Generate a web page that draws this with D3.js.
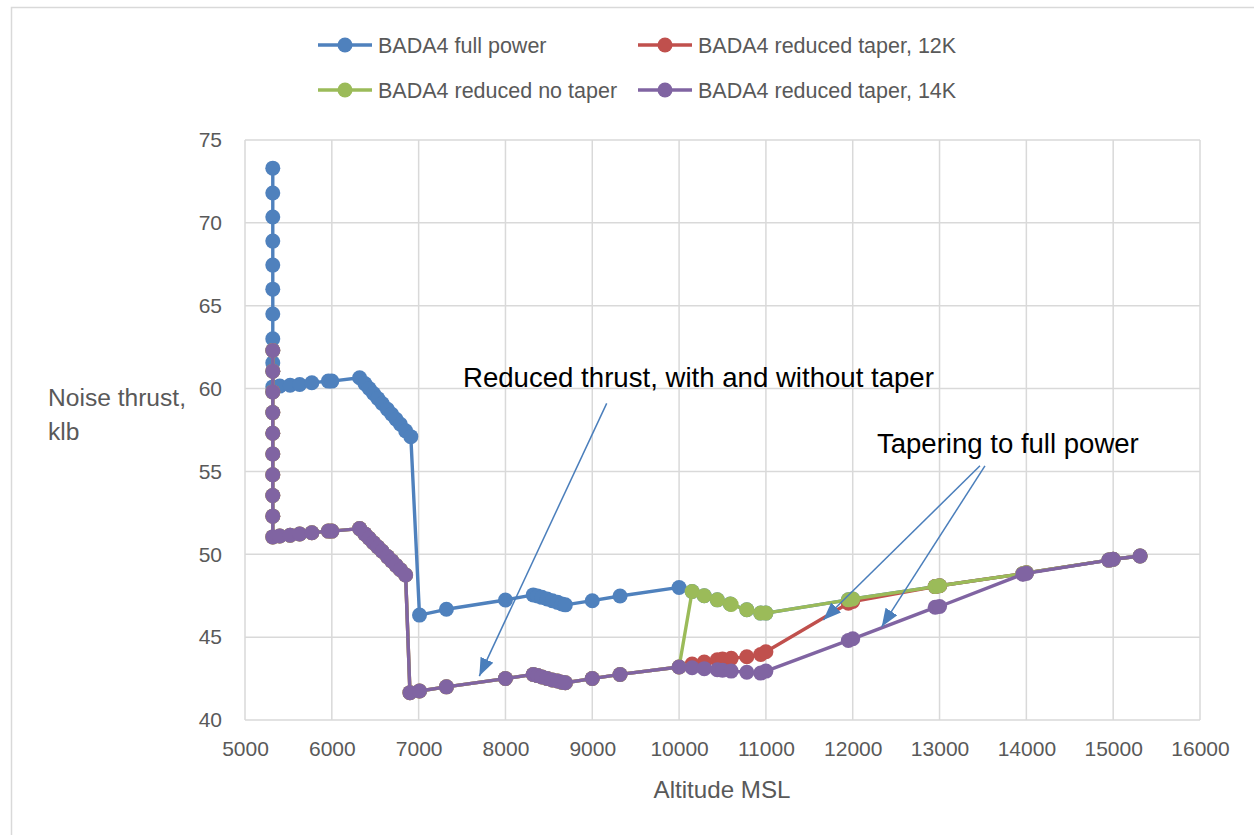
<!DOCTYPE html>
<html>
<head>
<meta charset="utf-8">
<script src="https://cdn.jsdelivr.net/npm/d3@7"></script>
<style>
  html, body { margin: 0; padding: 0; background: #fff; }
  svg { display: block; }
  text { font-family: "Liberation Sans", Arial, sans-serif; }
</style>
</head>
<body>
<svg id="chart" width="1254" height="835"></svg>
<script>
// ---------- DATA ----------
const xTicks = [5000, 6000, 7000, 8000, 9000, 10000, 11000, 12000, 13000, 14000, 15000, 16000];
const yTicks = [40, 45, 50, 55, 60, 65, 70, 75];

// Full power
const fullAlt = [5320, 5320, 5320, 5320, 5320, 5320, 5320, 5320, 5320, 5320,
  5400, 5520, 5630, 5770, 5960, 6000, 6320, 6380, 6430, 6480, 6530, 6580, 6640, 6690, 6740, 6790, 6850, 6910,
  7010, 7320, 8000, 8320, 8370, 8420, 8480, 8540, 8600, 8650, 8690, 9000, 9320, 10000,
  10150, 10290, 10440, 10590, 10780, 10940, 11000, 11950, 12000, 12950, 13000, 13960, 14000, 14950, 15000, 15310];
const fullThrust = [73.3, 71.8, 70.35, 68.9, 67.45, 66.0, 64.5, 63.0, 61.55, 60.1,
  60.15, 60.2, 60.25, 60.35, 60.45, 60.45, 60.65, 60.3, 60.0, 59.7, 59.4, 59.1, 58.75, 58.45, 58.15, 57.85, 57.45, 57.1,
  46.33, 46.68, 47.24, 47.55, 47.48, 47.4, 47.3, 47.2, 47.1, 47.0, 46.95, 47.2, 47.48, 48.0,
  47.75, 47.5, 47.25, 47.0, 46.65, 46.45, 46.45, 47.25, 47.3, 48.05, 48.1, 48.83, 48.88, 49.65, 49.7, 49.9];

// Reduced thrust, common part up to 10000 ft
const reducedAlt = [5320, 5320, 5320, 5320, 5320, 5320, 5320, 5320, 5320, 5320,
  5400, 5520, 5630, 5770, 5960, 6000, 6320, 6380, 6430, 6480, 6530, 6580, 6640, 6690, 6740, 6790, 6850,
  6900, 7010, 7320, 8000, 8320, 8370, 8420, 8480, 8540, 8600, 8650, 8690, 9000, 9320, 10000];
const reducedThrust = [62.3, 61.05, 59.8, 58.55, 57.3, 56.05, 54.8, 53.55, 52.3, 51.05,
  51.1, 51.15, 51.22, 51.3, 51.4, 51.4, 51.55, 51.23, 50.97, 50.7, 50.44, 50.18, 49.86, 49.6, 49.33, 49.07, 48.75,
  41.65, 41.75, 42.0, 42.5, 42.75, 42.68, 42.6, 42.5, 42.42, 42.35, 42.28, 42.25, 42.5, 42.75, 43.2];

// Tails above 10000 ft
const taper12Alt = [10150, 10290, 10440, 10500, 10600, 10780, 10940, 11000, 11950, 12000, 12950, 13000, 13960, 14000, 14950, 15000, 15310];
const taper12Thrust = [43.38, 43.5, 43.63, 43.68, 43.72, 43.82, 43.95, 44.12, 47.05, 47.15, 48.05, 48.1, 48.83, 48.88, 49.65, 49.7, 49.9];

const noTaperAlt = [10150, 10290, 10440, 10590, 10600, 10780, 10940, 11000, 11950, 12000, 12950, 13000, 13960, 14000, 14950, 15000, 15310];
const noTaperThrust = [47.75, 47.5, 47.25, 47.0, 46.97, 46.65, 46.45, 46.45, 47.25, 47.3, 48.05, 48.1, 48.83, 48.88, 49.65, 49.7, 49.9];

const taper14Alt = [10150, 10290, 10440, 10500, 10600, 10780, 10940, 11000, 11950, 12000, 12950, 13000, 13960, 14000, 14950, 15000, 15310];
const taper14Thrust = [43.15, 43.1, 43.03, 43.0, 42.95, 42.88, 42.83, 42.95, 44.8, 44.9, 46.8, 46.85, 48.8, 48.85, 49.65, 49.7, 49.9];

const seriesNames = ["BADA4 full power", "BADA4 reduced taper, 12K", "BADA4 reduced no taper", "BADA4 reduced taper, 14K"];
const seriesColors = ["#4F81BD", "#C0504D", "#9BBB59", "#8064A2"];

// Annotations (data coordinates)
const annotationTexts = ["Reduced thrust, with and without taper", "Tapering to full power"];
const annotationTextPos = [[7511, 60.09], [12279, 56.11]];
const arrowFrom = [[9166, 59.11], [13466, 55.34], [13523, 55.34]];
const arrowTo = [[7699, 42.65], [11661, 46.03], [12334, 45.63]];

// ---------- BUILD ----------
const zip = (a, b) => a.map((v, i) => ({x: v, y: b[i]}));
const series = [
  zip(fullAlt, fullThrust),
  zip(reducedAlt.concat(taper12Alt), reducedThrust.concat(taper12Thrust)),
  zip(reducedAlt.concat(noTaperAlt), reducedThrust.concat(noTaperThrust)),
  zip(reducedAlt.concat(taper14Alt), reducedThrust.concat(taper14Thrust))
];

const svg = d3.select("#chart");
const W = 1254, H = 835;
const plot = {left: 245, right: 1200, top: 140, bottom: 720};

// outer chart border
svg.append("rect").attr("x", 11.5).attr("y", 7.5).attr("width", W + 10).attr("height", H + 10)
  .attr("fill", "#fff").attr("stroke", "#d9d9d9").attr("stroke-width", 1.5);

const x = d3.scaleLinear().domain([5000, 16000]).range([plot.left, plot.right]);
const y = d3.scaleLinear().domain([40, 75]).range([plot.bottom, plot.top]);

function fit(sel, target) {
  sel.each(function() {
    const w = this.getComputedTextLength();
    const fs = parseFloat(d3.select(this).style("font-size"));
    if (w > 0) d3.select(this).style("font-size", (fs * target / w).toFixed(2) + "px");
  });
}

// gridlines
svg.append("g").selectAll("line.v").data(xTicks).join("line")
  .attr("x1", d => x(d)).attr("x2", d => x(d)).attr("y1", plot.top).attr("y2", plot.bottom)
  .attr("stroke", "#d9d9d9").attr("stroke-width", 1.5);
svg.append("g").selectAll("line.h").data(yTicks).join("line")
  .attr("x1", plot.left).attr("x2", plot.right).attr("y1", d => y(d)).attr("y2", d => y(d))
  .attr("stroke", "#d9d9d9").attr("stroke-width", 1.5);

// axes (labels only, Excel-like)
const xAxis = svg.append("g").attr("transform", `translate(0,${plot.bottom})`)
  .call(d3.axisBottom(x).tickValues(xTicks).tickFormat(d3.format("d")).tickSize(0).tickPadding(21));
xAxis.select(".domain").remove();
xAxis.selectAll("text").style("font-size", "21px").attr("fill", "#595959")
  .style("font-family", "Liberation Sans, Arial, sans-serif");

const yAxis = svg.append("g").attr("transform", `translate(${plot.left},0)`)
  .call(d3.axisLeft(y).tickValues(yTicks).tickFormat(d3.format("d")).tickSize(0).tickPadding(23));
yAxis.select(".domain").remove();
yAxis.selectAll("text").style("font-size", "21px").attr("fill", "#595959")
  .style("font-family", "Liberation Sans, Arial, sans-serif");

// series
const line = d3.line().x(d => x(d.x)).y(d => y(d.y));
series.forEach((s, i) => {
  const g = svg.append("g");
  g.append("path").datum(s).attr("d", line).attr("fill", "none")
    .attr("stroke", seriesColors[i]).attr("stroke-width", 3.4).attr("stroke-linejoin", "round");
  g.selectAll("circle").data(s).join("circle")
    .attr("cx", d => x(d.x)).attr("cy", d => y(d.y)).attr("r", 7.5)
    .attr("fill", seriesColors[i]);
});

// axis titles
const yt = svg.append("text").attr("x", 48).attr("y", 406).attr("fill", "#595959").style("font-size", "22px")
  .text("Noise thrust,");
fit(yt, 138);
svg.append("text").attr("x", 48).attr("y", 440).attr("fill", "#595959").style("font-size", yt.style("font-size"))
  .text("klb");
const xt = svg.append("text").attr("x", 722).attr("y", 798).attr("text-anchor", "middle").attr("fill", "#595959")
  .style("font-size", "22px").text("Altitude MSL");
fit(xt, 137);

// legend
const legendPos = [[318, 45], [638, 45], [318, 90], [638, 90]];
seriesNames.forEach((n, i) => {
  const [lx, ly] = legendPos[i];
  const g = svg.append("g");
  g.append("line").attr("x1", lx).attr("x2", lx + 54).attr("y1", ly).attr("y2", ly)
    .attr("stroke", seriesColors[i]).attr("stroke-width", 3.4);
  g.append("circle").attr("cx", lx + 27).attr("cy", ly).attr("r", 7.5).attr("fill", seriesColors[i]);
  g.append("text").attr("x", lx + 60).attr("y", ly + 7.5).attr("fill", "#595959")
    .style("font-size", "21.5px").text(n);
});

// annotations
const defs = svg.append("defs");
defs.append("marker").attr("id", "arrowhead").attr("viewBox", "0 0 18 14")
  .attr("refX", 18).attr("refY", 7).attr("markerWidth", 18).attr("markerHeight", 14)
  .attr("markerUnits", "userSpaceOnUse").attr("orient", "auto")
  .append("path").attr("d", "M0,0 L18,7 L0,14 Z").attr("fill", "#4A7EBB");

arrowFrom.forEach((f, i) => {
  svg.append("line")
    .attr("x1", x(f[0])).attr("y1", y(f[1]))
    .attr("x2", x(arrowTo[i][0])).attr("y2", y(arrowTo[i][1]))
    .attr("stroke", "#4A7EBB").attr("stroke-width", 1.5)
    .attr("marker-end", "url(#arrowhead)");
});

const annWidths = [471, 262];
annotationTexts.forEach((t, i) => {
  const el = svg.append("text").attr("x", x(annotationTextPos[i][0])).attr("y", y(annotationTextPos[i][1]))
    .attr("fill", "#000").style("font-size", "24px").text(t);
  fit(el, annWidths[i]);
});
</script>
</body>
</html>
